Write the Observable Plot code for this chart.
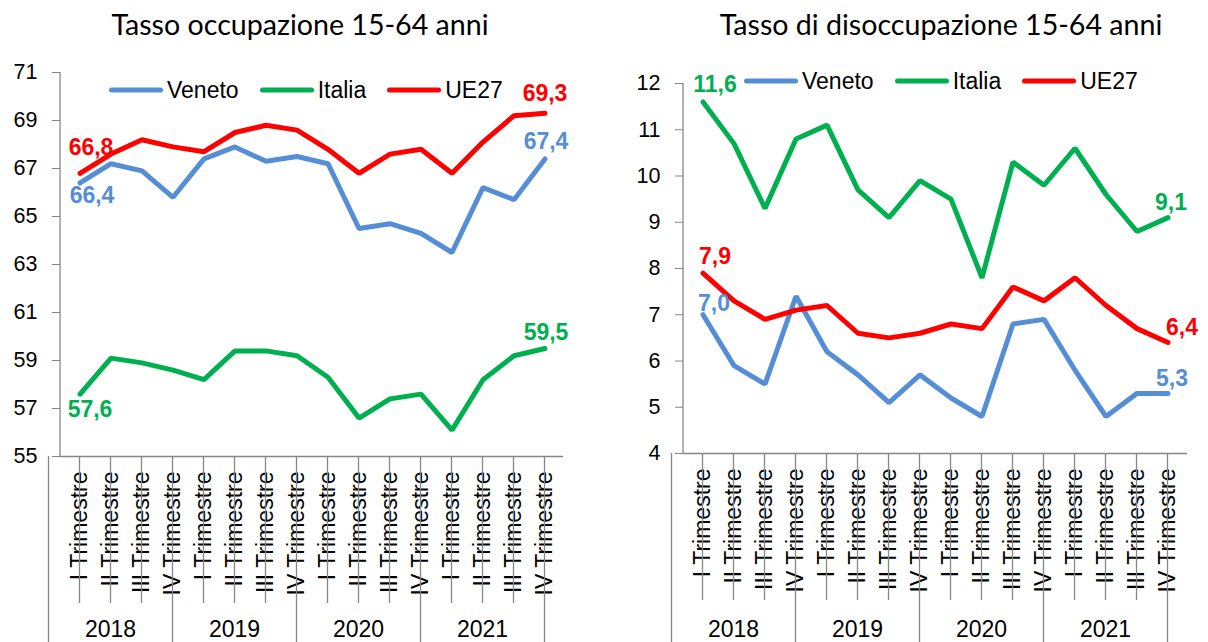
<!DOCTYPE html>
<html>
<head>
<meta charset="utf-8">
<script src="https://cdn.jsdelivr.net/npm/d3@7"></script>
<script src="https://cdn.jsdelivr.net/npm/@observablehq/plot@0.6"></script>
<style>
  body { margin: 0; background: #fff; }
  #wrap { position: relative; width: 1208px; height: 642px; overflow: hidden; background: #fff; }
  .title { position: absolute; top: 7px; font-family: Lato, "Open Sans", sans-serif; font-size: 28.6px; color: #000; white-space: nowrap; transform: translateX(-50%); }
  .panel { position: absolute; top: 50px; }
  .legend { position: absolute; display: flex; align-items: center; font-family: "Liberation Sans", Arial, sans-serif; font-size: 23px; color: #000; transform: translateY(-50%); }
  .legend .sw { width: 54px; height: 5px; border-radius: 3px; margin-right: 4px; }
  .legend .lab { margin-right: 21px; }
</style>
</head>
<body>
<div id="wrap"></div>
<script>
// ---- data ----
const years = ["2018", "2019", "2020", "2021"];
const quarters = ["I Trimestre", "II Trimestre", "III Trimestre", "IV Trimestre"];
const seriesNames = ["Veneto", "Italia", "UE27"];
const seriesColors = ["#558ED5", "#00B050", "#FF0000"];

const occVeneto = [66.4, 67.2, 66.9, 65.8, 67.4, 67.9, 67.3, 67.5, 67.2, 64.5, 64.7, 64.3, 63.5, 66.2, 65.7, 67.4];
const occItalia = [57.6, 59.1, 58.9, 58.6, 58.2, 59.4, 59.4, 59.2, 58.3, 56.6, 57.4, 57.6, 56.1, 58.2, 59.2, 59.5];
const occUE27   = [66.8, 67.6, 68.2, 67.9, 67.7, 68.5, 68.8, 68.6, 67.8, 66.8, 67.6, 67.8, 66.8, 68.1, 69.2, 69.3];

const disVeneto = [7.0, 5.9, 5.5, 7.4, 6.2, 5.7, 5.1, 5.7, 5.2, 4.8, 6.8, 6.9, 5.8, 4.8, 5.3, 5.3];
const disItalia = [11.6, 10.7, 9.3, 10.8, 11.1, 9.7, 9.1, 9.9, 9.5, 7.8, 10.3, 9.8, 10.6, 9.6, 8.8, 9.1];
const disUE27   = [7.9, 7.3, 6.9, 7.1, 7.2, 6.6, 6.5, 6.6, 6.8, 6.7, 7.6, 7.3, 7.8, 7.2, 6.7, 6.4];

const occTicks = [55, 57, 59, 61, 63, 65, 67, 69, 71];
const disTicks = [4, 5, 6, 7, 8, 9, 10, 11, 12];

const titles = ["Tasso occupazione 15-64 anni", "Tasso di disoccupazione 15-64 anni"];

// ---- helpers ----
const keys = years.flatMap(y => quarters.map(q => y + " " + q));
const fmt = v => v.toFixed(1).replace(".", ",");
const AXIS = "#868686";

function buildRows(seriesValues) {
  return seriesNames.flatMap((s, si) => seriesValues[si].map((v, i) => ({ key: keys[i], series: s, value: v })));
}

function decorations() {
  return (index, scales, values, dims) => {
    const g = d3.create("svg:g");
    const sx = scales.x;
    const a0 = sx(keys[0]), a1 = sx(keys[1]);
    const step = a1 - a0;
    const startOf = Math.abs(a0 - dims.marginLeft) < 2 ? (k => sx(k)) : (k => sx(k) - step / 2);
    const y0 = dims.height - dims.marginBottom;
    const qEnd = y0 + 147;
    g.append("line").attr("x1", dims.marginLeft).attr("x2", dims.marginLeft)
      .attr("y1", dims.marginTop).attr("y2", y0).attr("stroke", AXIS).attr("stroke-width", 1.3);
    keys.forEach((k, i) => {
      const x = startOf(k);
      const isYear = i % quarters.length === 0;
      g.append("line").attr("x1", x).attr("x2", x).attr("y1", y0)
        .attr("y2", isYear ? dims.height : qEnd).attr("stroke", AXIS).attr("stroke-width", 1.3);
    });
    const xe = startOf(keys[keys.length - 1]) + step;
    g.append("line").attr("x1", xe).attr("x2", xe).attr("y1", y0).attr("y2", dims.height)
      .attr("stroke", AXIS).attr("stroke-width", 1.3);
    years.forEach((yr, j) => {
      const xa = startOf(keys[j * 4]);
      const xb = startOf(keys[j * 4 + 3]) + step;
      g.append("text").attr("x", (xa + xb) / 2).attr("y", dims.height - 11)
        .attr("text-anchor", "middle").attr("dominant-baseline", "middle")
        .attr("fill", "#000").attr("font-size", 23).text(yr);
    });
    return g.node();
  };
}

function makeChart(cfg) {
  const rows = buildRows(cfg.values);
  const labelMarks = cfg.labels.map(l => {
    const si = seriesNames.indexOf(l.series);
    const i = l.first ? 0 : keys.length - 1;
    const d = { key: keys[i], series: l.series, value: cfg.values[si][i] };
    return Plot.text([d], {
      x: "key", y: "value", text: dd => fmt(dd.value), fill: "series",
      dx: l.dx, dy: l.dy, fontWeight: "bold", fontSize: 23, lineAnchor: "middle"
    });
  });
  return Plot.plot({
    width: 604, height: 592,
    marginLeft: cfg.ml, marginRight: cfg.mr, marginTop: cfg.mt, marginBottom: cfg.mb,
    style: { fontFamily: "'Liberation Sans', Arial, sans-serif", fontSize: "22px", color: "#000", background: "transparent", overflow: "visible" },
    x: { type: "band", domain: keys, padding: 0 },
    y: { domain: cfg.domain, nice: false },
    color: { domain: seriesNames, range: seriesColors },
    marks: [
      Plot.ruleY([cfg.domain[0]], { stroke: AXIS, strokeWidth: 1.3 }),
      Plot.axisY({ ticks: cfg.ticks, tickSize: 8, tickPadding: 15, stroke: AXIS, fill: "#000", label: null, fontSize: 21.5 }),
      Plot.axisX({ tickRotate: -90, tickSize: 0, tickPadding: 15, label: null, fontSize: 23, fill: "#000",
                   tickFormat: k => k.slice(5) }),
      decorations(),
      Plot.lineY(rows, { x: "key", y: "value", z: "series", stroke: "series", strokeWidth: 5,
                         strokeLinejoin: "miter", strokeLinecap: "round" }),
      ...labelMarks
    ]
  });
}

function legend(x, y) {
  const div = document.createElement("div");
  div.className = "legend";
  div.style.left = x + "px";
  div.style.top = y + "px";
  seriesNames.forEach((s, i) => {
    const sw = document.createElement("div"); sw.className = "sw"; sw.style.background = seriesColors[i];
    const lab = document.createElement("span"); lab.className = "lab"; lab.textContent = s;
    div.appendChild(sw); div.appendChild(lab);
  });
  return div;
}

const wrap = document.getElementById("wrap");

const left = makeChart({
  values: [occVeneto, occItalia, occUE27], domain: [55, 71], ticks: occTicks,
  ml: 60, mr: 41, mt: 22, mb: 186,
  labels: [
    { series: "UE27", first: true, dx: 11, dy: -26 },
    { series: "Veneto", first: true, dx: 12, dy: 13 },
    { series: "Italia", first: true, dx: 10, dy: 16 },
    { series: "UE27", first: false, dx: 0, dy: -20 },
    { series: "Veneto", first: false, dx: 1, dy: -17 },
    { series: "Italia", first: false, dx: 1, dy: -16 }
  ]
});
const right = makeChart({
  values: [disVeneto, disItalia, disUE27], domain: [4, 12], ticks: disTicks,
  ml: 79, mr: 21, mt: 33, mb: 189,
  labels: [
    { series: "Italia", first: true, dx: 12, dy: -17 },
    { series: "UE27", first: true, dx: 12, dy: -17 },
    { series: "Veneto", first: true, dx: 11, dy: -11 },
    { series: "Italia", first: false, dx: 3, dy: -15 },
    { series: "UE27", first: false, dx: 14, dy: -15 },
    { series: "Veneto", first: false, dx: 4, dy: -15 }
  ]
});

const pl = document.createElement("div"); pl.className = "panel"; pl.style.left = "0px"; pl.appendChild(left);
const pr = document.createElement("div"); pr.className = "panel"; pr.style.left = "604px"; pr.appendChild(right);
wrap.appendChild(pl); wrap.appendChild(pr);

const t1 = document.createElement("div"); t1.className = "title"; t1.style.left = "300px"; t1.textContent = titles[0];
const t2 = document.createElement("div"); t2.className = "title"; t2.style.left = "941px"; t2.textContent = titles[1];
wrap.appendChild(t1); wrap.appendChild(t2);

wrap.appendChild(legend(109, 90));
wrap.appendChild(legend(744, 81));
</script>
</body>
</html>
